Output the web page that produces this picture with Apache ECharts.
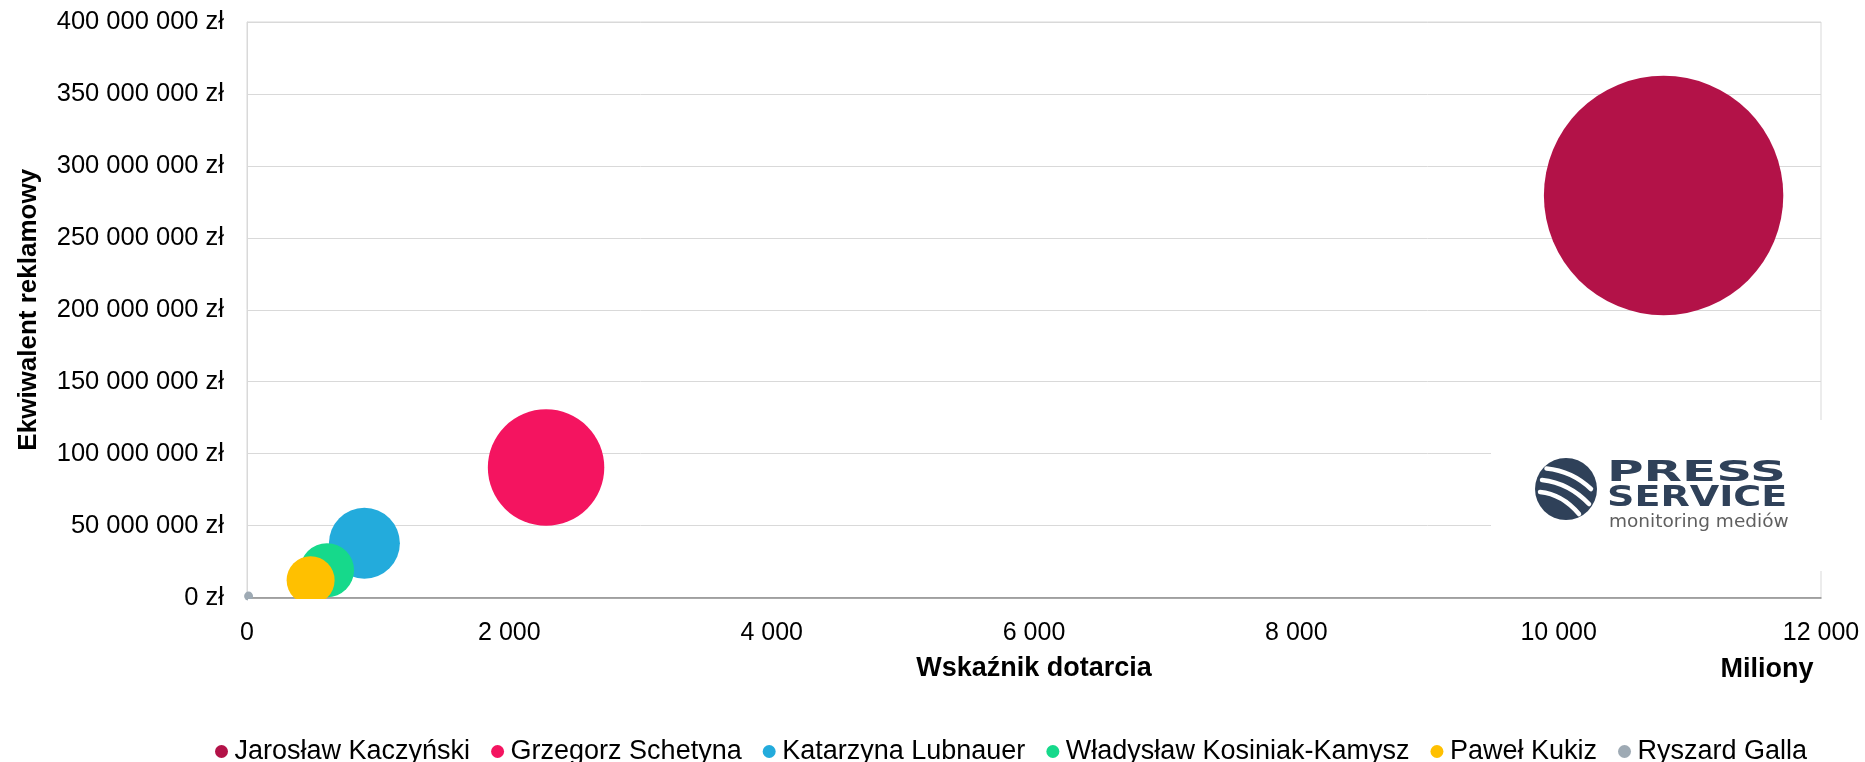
<!DOCTYPE html>
<html>
<head>
<meta charset="utf-8">
<script src="https://cdn.jsdelivr.net/npm/echarts@6/dist/echarts.min.js"></script>
<style>
html,body{margin:0;padding:0;background:#fff;}
#chart{width:1865px;height:762px;}
</style>
</head>
<body>
<div id="chart"></div>
<script>
// ---- data ----
const names = ['Jarosław Kaczyński', 'Grzegorz Schetyna', 'Katarzyna Lubnauer', 'Władysław Kosiniak-Kamysz', 'Paweł Kukiz', 'Ryszard Galla'];
const reach = [10800, 2280, 895, 610, 485, 12];            // Wskaźnik dotarcia (miliony)
const adValue = [279400000, 90300000, 37700000, 19000000, 12000000, 1000000]; // Ekwiwalent reklamowy (zł)
const bubbleSize = [14330, 3390, 1260, 730, 576, 20];     // rozmiar bąbelka
const colors = ['#b31248', '#f41460', '#23abdc', '#16d98b', '#ffc000', '#9eaab4'];
const xTitle = 'Wskaźnik dotarcia';
const yTitle = 'Ekwiwalent reklamowy';
const xUnit = 'Miliony';
const xMin = 0, xMax = 12000, xStep = 2000;
const yMin = 0, yMax = 400000000, yStep = 50000000;

function fmt(v) {
  return String(Math.round(v)).replace(/\B(?=(\d{3})+(?!\d))/g, '\u00a0');
}

const FONT = '"Liberation Sans", Arial, sans-serif';

const series = names.map((n, i) => ({
  name: n,
  type: 'scatter',
  data: [[reach[i], adValue[i], bubbleSize[i]]],
  symbol: 'circle',
  symbolSize: (val) => 2 * Math.sqrt(val[2]),
  itemStyle: { color: colors[i], opacity: 1 },
  emphasis: { disabled: true },
  z: 2
}));

const chart = echarts.init(document.getElementById('chart'), null, { renderer: 'canvas' });
chart.setOption({
  animation: false,
  color: colors,
  grid: {
    left: 247, right: 44, top: 22, bottom: 164.5,
    show: true, borderColor: '#d9d9d9', borderWidth: 1, backgroundColor: 'transparent'
  },
  legend: {
    data: names,
    left: 210, top: 733,
    icon: 'circle',
    itemWidth: 16, itemHeight: 13,
    itemGap: 21,
    textStyle: { fontFamily: FONT, fontSize: 27, color: '#000' }
  },
  xAxis: {
    type: 'value', min: xMin, max: xMax, interval: xStep,
    name: xTitle, nameLocation: 'middle', nameGap: 58,
    nameTextStyle: { fontFamily: FONT, fontSize: 27, fontWeight: 'bold', color: '#000' },
    axisLine: { show: true, lineStyle: { color: '#8c8c8c', width: 1.5 } },
    axisTick: { show: false },
    splitLine: { show: false },
    axisLabel: { margin: 23, fontFamily: FONT, fontSize: 25, color: '#000', formatter: (v) => fmt(v) }
  },
  yAxis: {
    type: 'value', min: yMin, max: yMax, interval: yStep,
    name: yTitle, nameLocation: 'middle', nameGap: 205, nameRotate: 90,
    nameTextStyle: { fontFamily: FONT, fontSize: 26, fontWeight: 'bold', color: '#000' },
    axisLine: { show: true, lineStyle: { color: '#d9d9d9', width: 1 } },
    axisTick: { show: false },
    splitLine: { show: true, lineStyle: { color: '#d9d9d9', width: 1 } },
    axisLabel: { margin: 23, padding: [6, 0, 0, 0], fontFamily: FONT, fontSize: 25.5, color: '#000', formatter: (v) => fmt(v) + ' zł' }
  },
  graphic: [
    // clip bubbles below the plot floor
    { type: 'rect', z: 50, shape: { x: 248, y: 599, width: 300, height: 12 }, style: { fill: '#fff' }, silent: true },
    // unit label
    { type: 'text', z: 50, x: 1767, y: 670, style: { text: xUnit, font: 'bold 27px ' + FONT, fill: '#000', align: 'center', verticalAlign: 'middle' } },
    // logo box
    { type: 'rect', z: 60, shape: { x: 1491, y: 420, width: 345, height: 151 }, style: { fill: '#fff' }, silent: true },
    { type: 'circle', z: 61, shape: { cx: 1566, cy: 489, r: 31 }, style: { fill: '#2f4159' } },
    { type: 'bezierCurve', z: 62, shape: { x1: 1546.5, y1: 468.5, cpx1: 1572, cpy1: 471, x2: 1591, y2: 489 }, style: { stroke: '#fff', lineWidth: 4.5, fill: null, lineCap: 'round' } },
    { type: 'bezierCurve', z: 62, shape: { x1: 1542, y1: 480, cpx1: 1569, cpy1: 483, x2: 1589, y2: 504 }, style: { stroke: '#fff', lineWidth: 4.5, fill: null, lineCap: 'round' } },
    { type: 'bezierCurve', z: 62, shape: { x1: 1540, y1: 492, cpx1: 1562, cpy1: 494, x2: 1579, y2: 514 }, style: { stroke: '#fff', lineWidth: 4.5, fill: null, lineCap: 'round' } },
    { type: 'text', z: 62, x: 1607, y: 473.5, scaleX: 1.85, scaleY: 1.08, style: { text: 'PRESS', font: 'bold 27px "DejaVu Sans", sans-serif', fill: '#2f4159', align: 'left', verticalAlign: 'middle' } },
    { type: 'text', z: 62, x: 1607, y: 498.5, scaleX: 1.41, scaleY: 1.08, style: { text: 'SERVICE', font: 'bold 27px "DejaVu Sans", sans-serif', fill: '#2f4159', align: 'left', verticalAlign: 'middle' } },
    { type: 'text', z: 62, x: 1609, y: 522, style: { text: 'monitoring mediów', font: '18.5px "DejaVu Sans", sans-serif', fill: '#5f5f5f', align: 'left', verticalAlign: 'middle' } }
  ],
  series: series
});
</script>
</body>
</html>
